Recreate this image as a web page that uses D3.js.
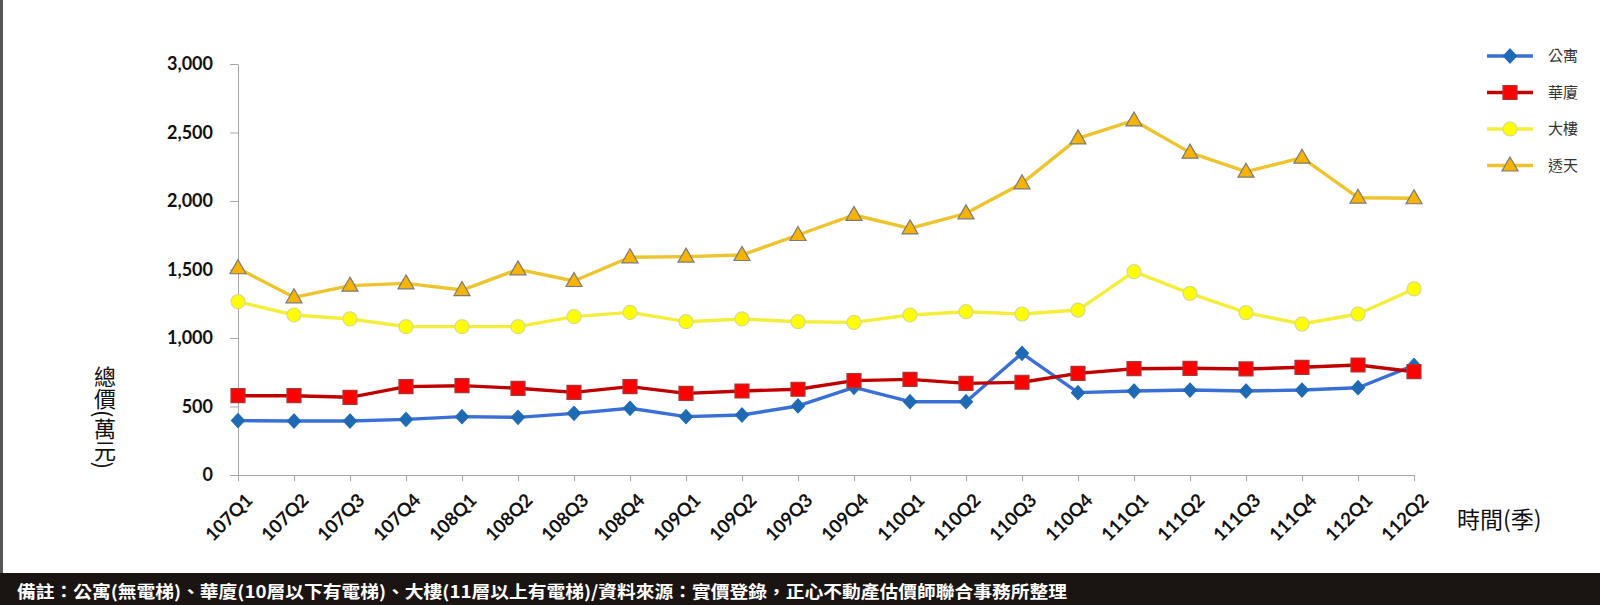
<!DOCTYPE html>
<html>
<head>
<meta charset="utf-8">
<script src="https://cdn.jsdelivr.net/npm/d3@7"></script>
<style>
  html, body { margin: 0; padding: 0; background: #fff; }
  svg { display: block; }
</style>
</head>
<body>
<svg id="chart" width="1600" height="605"></svg>
<script>
const categories = ["107Q1","107Q2","107Q3","107Q4","108Q1","108Q2","108Q3","108Q4",
  "109Q1","109Q2","109Q3","109Q4","110Q1","110Q2","110Q3","110Q4",
  "111Q1","111Q2","111Q3","111Q4","112Q1","112Q2"];
const apartment = [397,394,394,406,426,421,450,487,426,438,504,640,535,535,888,601,613,620,613,620,637,800];
const huasha    = [579,579,567,645,652,633,603,645,596,613,626,689,698,669,677,742,776,779,774,786,803,754];
const dalou     = [1265,1168,1139,1083,1083,1083,1156,1187,1119,1139,1119,1114,1168,1192,1175,1204,1484,1326,1185,1102,1175,1358];
const toutian   = [1509,1297,1382,1399,1350,1501,1416,1589,1594,1606,1752,1898,1800,1910,2129,2457,2588,2353,2214,2316,2024,2020];
const seriesNames = ["公寓","華廈","大樓","透天"];
const yTicks = [0,500,1000,1500,2000,2500,3000];
const yTitle = "總價(萬元)";
const xTitle = "時間(季)";
const note = "備註：公寓(無電梯)、華廈(10層以下有電梯)、大樓(11層以上有電梯)/資料來源：實價登錄，正心不動產估價師聯合事務所整理";

const series = [
  {name: seriesNames[0], values: apartment, line: "#3A6FD6", fill: "#1F6AB4", stroke: "#1F6AB4", shape: "diamond"},
  {name: seriesNames[1], values: huasha,    line: "#C00000", fill: "#FF0000", stroke: "#A83838", shape: "square"},
  {name: seriesNames[2], values: dalou,     line: "#F4EE3A", fill: "#FFFF00", stroke: "#D9D98C", shape: "circle"},
  {name: seriesNames[3], values: toutian,   line: "#EEC42E", fill: "#F6B300", stroke: "#7A7A7A", shape: "triangle"}
];

const shapes = {
  diamond: "M0,-7L6.5,0L0,7L-6.5,0Z",
  square: "M-7,-7H7V7H-7Z",
  circle: "M7,0A7,7,0,1,1,-7,0A7,7,0,1,1,7,0Z",
  triangle: "M0,-8.5L8,5.5L-8,5.5Z"
};

const svg = d3.select("#chart");

// left frame line
svg.append("rect").attr("x", 0).attr("y", 0).attr("width", 3).attr("height", 573).attr("fill", "#555");

const x = d3.scalePoint().domain(categories).range([238, 1414]);
const y = d3.scaleLinear().domain([0, 3000]).range([475, 64]);

// Y axis
const yAxis = svg.append("g").attr("transform", "translate(238,0)")
  .call(d3.axisLeft(y).tickValues(yTicks).tickFormat(d3.format(",")).tickSize(8).tickSizeOuter(0));
yAxis.select(".domain").attr("stroke", "#A6A6A6");
yAxis.selectAll(".tick line").attr("stroke", "#A6A6A6");
yAxis.selectAll(".tick text").attr("x", -25)
  .style("font-family", "Lato, 'Open Sans', sans-serif").style("font-weight", "700")
  .style("font-size", "18px").attr("fill", "#111");

// X axis
const xAxis = svg.append("g").attr("transform", "translate(0,475)")
  .call(d3.axisBottom(x).tickSize(6).tickSizeOuter(0));
xAxis.select(".domain").attr("stroke", "#A6A6A6").attr("d", "M230,0.5H1414");
xAxis.selectAll(".tick line").attr("stroke", "#A6A6A6");
xAxis.selectAll(".tick text")
  .attr("text-anchor", "end")
  .attr("transform", "translate(6,17) rotate(-45)")
  .attr("x", 0).attr("y", 0).attr("dy", "0.72em")
  .style("font-family", "Lato, 'Open Sans', sans-serif").style("font-weight", "700")
  .style("font-size", "18.5px").attr("fill", "#111");

// lines & markers
const line = d3.line().x((d, i) => x(categories[i])).y(d => y(d));
series.forEach(s => {
  const g = svg.append("g");
  g.append("path").attr("d", line(s.values)).attr("fill", "none")
    .attr("stroke", s.line).attr("stroke-width", 3.4).attr("stroke-linejoin", "round");
  g.selectAll("path.m").data(s.values).enter().append("path").attr("class", "m")
    .attr("d", shapes[s.shape])
    .attr("transform", (d, i) => `translate(${x(categories[i])},${y(d)})`)
    .attr("fill", s.fill).attr("stroke", s.stroke).attr("stroke-width", 1.2);
});

// legend
const lg = svg.append("g");
series.forEach((s, i) => {
  const yy = 56 + i * 36.5;
  lg.append("line").attr("x1", 1487).attr("x2", 1533).attr("y1", yy).attr("y2", yy)
    .attr("stroke", s.line).attr("stroke-width", 3.5);
  lg.append("path").attr("d", shapes[s.shape]).attr("transform", `translate(1510,${yy})`)
    .attr("fill", s.fill).attr("stroke", s.stroke).attr("stroke-width", 1.2);
  lg.append("text").attr("x", 1548).attr("y", yy).attr("dy", "0.35em")
    .style("font-family", "'Noto Sans CJK TC', sans-serif").style("font-size", "15px")
    .attr("fill", "#333").text(s.name);
});

// axis titles
svg.append("text").attr("x", 105).attr("y", 366)
  .style("writing-mode", "vertical-rl")
  .style("font-family", "'Noto Sans CJK TC', sans-serif").style("font-size", "22px")
  .attr("fill", "#111").text(yTitle);

svg.append("text").attr("x", 1457).attr("y", 528)
  .style("font-family", "'Noto Sans CJK TC', sans-serif").style("font-size", "23px")
  .attr("fill", "#111").text(xTitle);

// bottom note band
svg.append("rect").attr("x", 0).attr("y", 573).attr("width", 1600).attr("height", 32).attr("fill", "#1A1512");
svg.append("text").attr("x", 17).attr("y", 598)
  .attr("textLength", 1050).attr("lengthAdjust", "spacingAndGlyphs")
  .style("font-family", "'Noto Sans CJK TC', sans-serif").style("font-weight", "700")
  .style("font-size", "17px").attr("fill", "#fff").text(note);
</script>
</body>
</html>
